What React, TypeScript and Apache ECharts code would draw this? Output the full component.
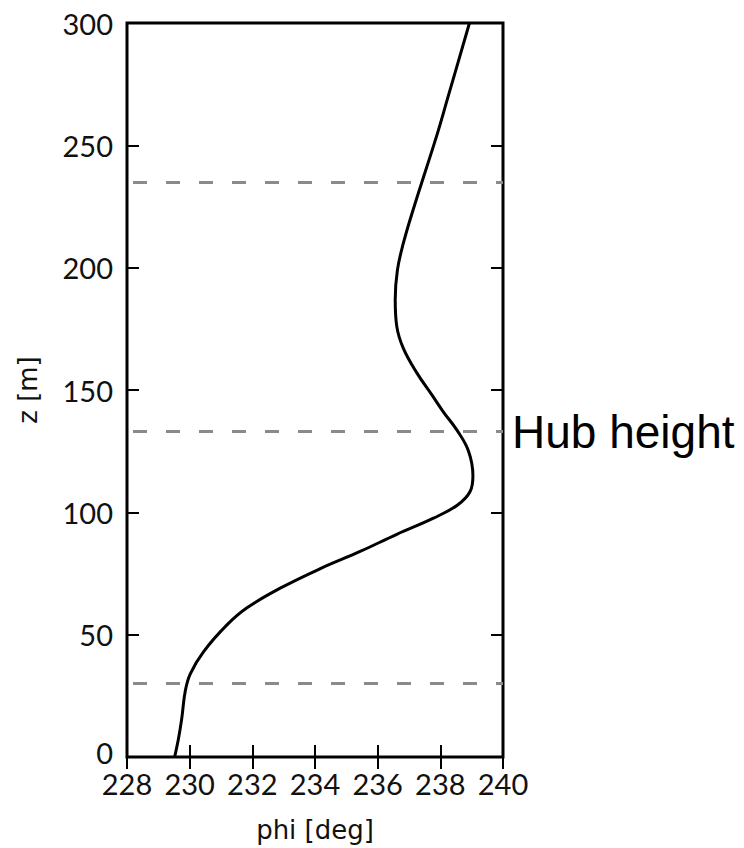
import React, { useEffect, useRef } from "react";
import * as echarts from "echarts";

// Wind direction profile: height z [m] against direction phi [deg]
const zValues = [
  0, 8, 16, 27, 34, 43, 54, 61, 69, 77, 84, 91, 97.6, 103, 108.5, 115, 125,
  133.6, 141, 148, 157, 167, 176, 187, 199, 210, 224, 255, 270, 300,
];
const phiValues = [
  229.52, 229.65, 229.75, 229.86, 230.02, 230.44, 231.19, 231.83, 232.89,
  234.17, 235.44, 236.61, 237.78, 238.55, 238.95, 239.04, 238.9, 238.53, 238.1,
  237.73, 237.25, 236.82, 236.61, 236.56, 236.63, 236.82, 237.14, 237.91,
  238.25, 238.93,
];

// Rotor bottom, hub height and rotor top
const rotorLevels = [30, 133, 235];
const rotorLabels = ["", "Hub height", ""];

const xTicks = { min: 228, max: 240, interval: 2 };
const yTicks = { min: 0, max: 300, interval: 50 };

const tickFont = "Lato";
const nameFont = "DejaVu Sans";

export default function App() {
  const ref = useRef<HTMLDivElement>(null);

  useEffect(() => {
    if (!ref.current) return;
    const chart = echarts.init(ref.current, null, { renderer: "svg" });

    const profile = zValues.map((z, i) => [phiValues[i], z]);

    const innerTick = { show: true, inside: true, length: 12, lineStyle: { color: "#000", width: 2 } };
    const tickText = { fontFamily: tickFont, fontSize: 29, lineHeight: 20, color: "#111" };

    chart.setOption({
      animation: false,
      backgroundColor: "#fff",
      grid: {
        left: 127,
        top: 23,
        right: 241,
        bottom: 88,
        show: true,
        borderColor: "#000",
        borderWidth: 3,
        backgroundColor: "transparent",
      },
      xAxis: [
        {
          type: "value",
          position: "bottom",
          min: xTicks.min,
          max: xTicks.max,
          interval: xTicks.interval,
          name: "phi [deg]",
          nameLocation: "middle",
          nameGap: 60,
          nameTextStyle: { fontFamily: nameFont, fontSize: 26, color: "#111" },
          axisLine: { show: false },
          axisTick: innerTick,
          splitLine: { show: false },
          axisLabel: { ...tickText, margin: 16 },
        },
        {
          type: "value",
          position: "top",
          min: xTicks.min,
          max: xTicks.max,
          interval: xTicks.interval,
          axisLine: { show: false },
          axisTick: innerTick,
          splitLine: { show: false },
          axisLabel: { show: false },
        },
      ],
      yAxis: [
        {
          type: "value",
          position: "left",
          min: yTicks.min,
          max: yTicks.max,
          interval: yTicks.interval,
          name: "z [m]",
          nameLocation: "middle",
          nameRotate: 90,
          nameGap: 86,
          nameTextStyle: { fontFamily: nameFont, fontSize: 26, color: "#111" },
          axisLine: { show: false },
          axisTick: innerTick,
          splitLine: { show: false },
          axisLabel: {
            ...tickText,
            margin: 14,
            // the bottom label sits a little higher, clear of the x labels
            formatter: (v: number) => (v === yTicks.min ? `{low|${v}}` : `${v}`),
            rich: { low: { ...tickText, padding: [0, 0, 10, 0] } },
          },
        },
        {
          type: "value",
          position: "right",
          min: yTicks.min,
          max: yTicks.max,
          interval: yTicks.interval,
          axisLine: { show: false },
          axisTick: innerTick,
          splitLine: { show: false },
          axisLabel: { show: false },
        },
      ],
      series: [
        {
          type: "line",
          data: profile,
          smooth: 0.4,
          showSymbol: false,
          lineStyle: { color: "#000", width: 3 },
          markLine: {
            silent: true,
            symbol: "none",
            lineStyle: { color: "#8a8a8a", width: 3, type: [14, 19], dashOffset: 27 },
            data: rotorLevels.map((z, i) => ({
              yAxis: z,
              label: {
                show: rotorLabels[i] !== "",
                position: "end",
                formatter: rotorLabels[i],
                fontFamily: "Liberation Sans, Arial, sans-serif",
                fontSize: 46,
                color: "#000",
                distance: 9,
              },
            })),
          },
        },
      ],
    });

    return () => chart.dispose();
  }, []);

  return (
    <div
      ref={ref}
      style={{ position: "fixed", left: 0, top: 0, width: 744, height: 848 }}
    />
  );
}
